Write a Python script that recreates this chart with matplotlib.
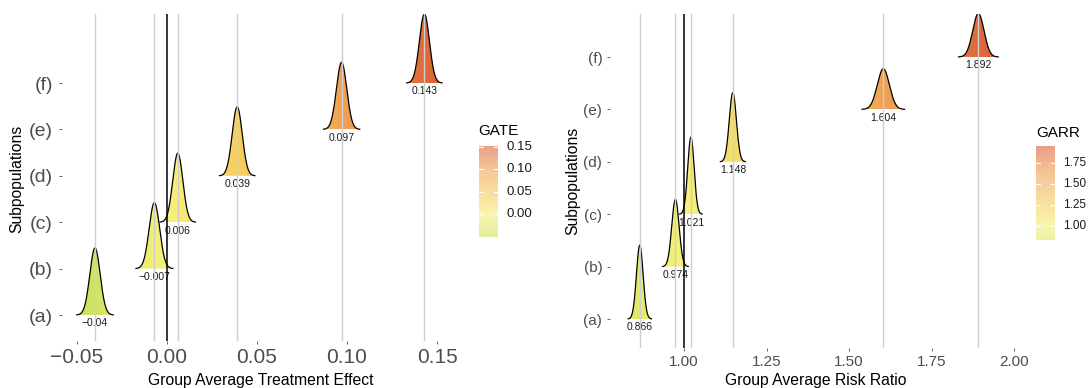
import numpy as np
import matplotlib.pyplot as plt
from matplotlib.colors import LinearSegmentedColormap
from matplotlib.patches import Polygon

plt.rcParams['font.family'] = ['Liberation Sans', 'DejaVu Sans']

# subpopulations and the estimated posterior summaries (mean / sd)
subpops = ["(a)", "(b)", "(c)", "(d)", "(e)", "(f)"]
gate_mean = [-0.040, -0.007, 0.006, 0.039, 0.097, 0.143]
gate_sd = [0.00288, 0.00293, 0.0028, 0.0028, 0.00288, 0.0028]
garr_mean = [0.866, 0.974, 1.021, 1.148, 1.604, 1.892]
garr_sd = [0.0101, 0.0111, 0.0097, 0.0108, 0.0184, 0.0172]

gate_ticks = [-0.05, 0.0, 0.05, 0.10, 0.15]
garr_ticks = [1.00, 1.25, 1.50, 1.75, 2.00]
gate_cb_ticks = [0.0, 0.05, 0.10, 0.15]
garr_cb_ticks = [1.00, 1.25, 1.50, 1.75]

W, H = 1088, 388

# gradient: low (green) -> mid (yellow) -> high (red-orange), position = (t+1)/2
cmap = LinearSegmentedColormap.from_list("ridge", [
    (0.0, "#69be1c"), (0.5, "#f7f17a"), (0.625, "#f5d062"),
    (0.81, "#f0a656"), (1.0, "#db5f38")])


def px_axes(fig, x0, y0, x1, y1):
    return fig.add_axes([x0 / W, 1 - y1 / H, (x1 - x0) / W, (y1 - y0) / H])


def fmt(v, nd=2):
    s = f"{abs(v):.{nd}f}"
    return ("\u2212" + s) if v < 0 else s


def ridge_panel(ax, means, sds, mid, height, xlim, ylim, ticks, tsize, ysize, ypad, lab_fmt):
    sdmin = min(sds)
    scale = height * sdmin * np.sqrt(2 * np.pi)
    lo = min(m - 3.5 * s for m, s in zip(means, sds))
    hi = max(m + 3.5 * s for m, s in zip(means, sds))
    D = max(abs(lo - mid), abs(hi - mid))
    pos = lambda v: np.clip(((np.asarray(v) - mid) / D + 1) / 2, 0, 1)

    for k, (m, s) in enumerate(zip(means, sds), start=1):
        x = np.linspace(m - 3.5 * s, m + 3.5 * s, 400)
        pdf = np.exp(-0.5 * ((x - m) / s) ** 2) / (s * np.sqrt(2 * np.pi))
        y = k + pdf * scale
        poly = Polygon(np.column_stack([np.r_[x[0], x, x[-1]], np.r_[k, y, k]]),
                       closed=True, facecolor='none', edgecolor='none')
        ax.add_patch(poly)
        img = cmap(pos(x))[None, :, :]
        im = ax.imshow(img, extent=[x[0], x[-1], k, y.max()], aspect='auto',
                       origin='lower', interpolation='bilinear', zorder=2)
        im.set_clip_path(poly)
        ax.plot(x, y, color='black', lw=0.9, zorder=3)
        ax.annotate(lab_fmt(m), (m, k), xytext=(0, -6), textcoords='offset points',
                    ha='center', va='center', fontsize=7.5, color='#1a1a1a', zorder=4)
        ax.axvline(m, color='#cfcfcf', lw=1.0, zorder=5)
    ax.axvline(mid, color='black', lw=1.1, zorder=6)

    ax.set_xlim(*xlim)
    ax.set_ylim(*ylim)
    for sp in ax.spines.values():
        sp.set_visible(False)
    ax.set_xticks(ticks)
    ax.set_xticklabels([fmt(t) for t in ticks])
    ax.set_yticks(range(1, len(subpops) + 1))
    ax.set_yticklabels(subpops)
    ax.tick_params(axis='x', labelsize=tsize, colors='#4d4d4d', length=2, width=0.6, pad=3)
    ax.tick_params(axis='y', labelsize=ysize, colors='#4d4d4d', length=2.5, width=0.6, pad=ypad)
    return lo, hi, pos


def colour_bar(fig, x0, x1, lo, hi, y_lo, y_hi, pos, ticks, title, lsize, tx, ty):
    cax = px_axes(fig, x0, y_hi, x1, y_lo)
    v = np.linspace(lo, hi, 300)
    c = cmap(pos(v))[:, None, :3]
    c = 0.6 * c + 0.4  # ggplot legend drawn with alpha
    cax.imshow(c, extent=[0, 1, lo, hi], aspect='auto', origin='lower')
    for t in ticks:
        cax.plot([0, 0.22], [t, t], color='white', lw=0.8)
        cax.plot([0.78, 1], [t, t], color='white', lw=0.8)
        cax.annotate(f"{t:.2f}", (1, t), xycoords=('axes fraction', 'data'),
                     xytext=(6, 0), textcoords='offset points',
                     ha='left', va='center', fontsize=lsize, color='#1a1a1a')
    cax.set_xlim(0, 1)
    cax.set_ylim(lo, hi)
    cax.axis('off')
    fig.text(tx / W, 1 - ty / H, title, fontsize=11, ha='left', va='baseline')


fig = plt.figure(figsize=(W / 100, H / 100), dpi=100)

# left panel: GATE
ax1 = px_axes(fig, 62, 14, 460, 341)
lo1, hi1, pos1 = ridge_panel(ax1, gate_mean, gate_sd, 0.0, 69 / 46.4,
                             ((62 - 167) / 1800, (460 - 167) / 1800),
                             (1 - 26 / 46.4, 1 + 301 / 46.4),
                             gate_ticks, 15, 14, 4, lambda m: fmt(m, 3).rstrip('0') if m == -0.04 else fmt(m, 3))
fig.text(261 / W, 1 - 380 / H, "Group Average Treatment Effect", fontsize=11.3, ha='center', va='center')
fig.text(17 / W, 1 - 179 / H, "Subpopulations", fontsize=11.3, ha='center', va='center', rotation=90)
colour_bar(fig, 479, 498, lo1, hi1, 214.3 + (0 - lo1) * 450, 214.3 - hi1 * 450, pos1,
           gate_cb_ticks, "GATE", 9.5, 478, 135)

# right panel: GARR
ax2 = px_axes(fig, 610, 14, 1025, 348)
lo2, hi2, pos2 = ridge_panel(ax2, garr_mean, garr_sd, 1.0, 77 / 52.4,
                             (1 - 74 / 330, 1 + 341 / 330),
                             (1 - 29 / 52.4, 1 + 305 / 52.4),
                             garr_ticks, 11, 11, 3, lambda m: f"{m:.3f}")
fig.text(816 / W, 1 - 380 / H, "Group Average Risk Ratio", fontsize=11.3, ha='center', va='center')
fig.text(573 / W, 1 - 181 / H, "Subpopulations", fontsize=11.3, ha='center', va='center', rotation=90)
colour_bar(fig, 1036, 1055, lo2, hi2, 225.7 + (1 - lo2) * 83.2, 225.7 - (hi2 - 1) * 83.2, pos2,
           garr_cb_ticks, "GARR", 8.5, 1036, 137)

fig.savefig("out.png", dpi=100)
